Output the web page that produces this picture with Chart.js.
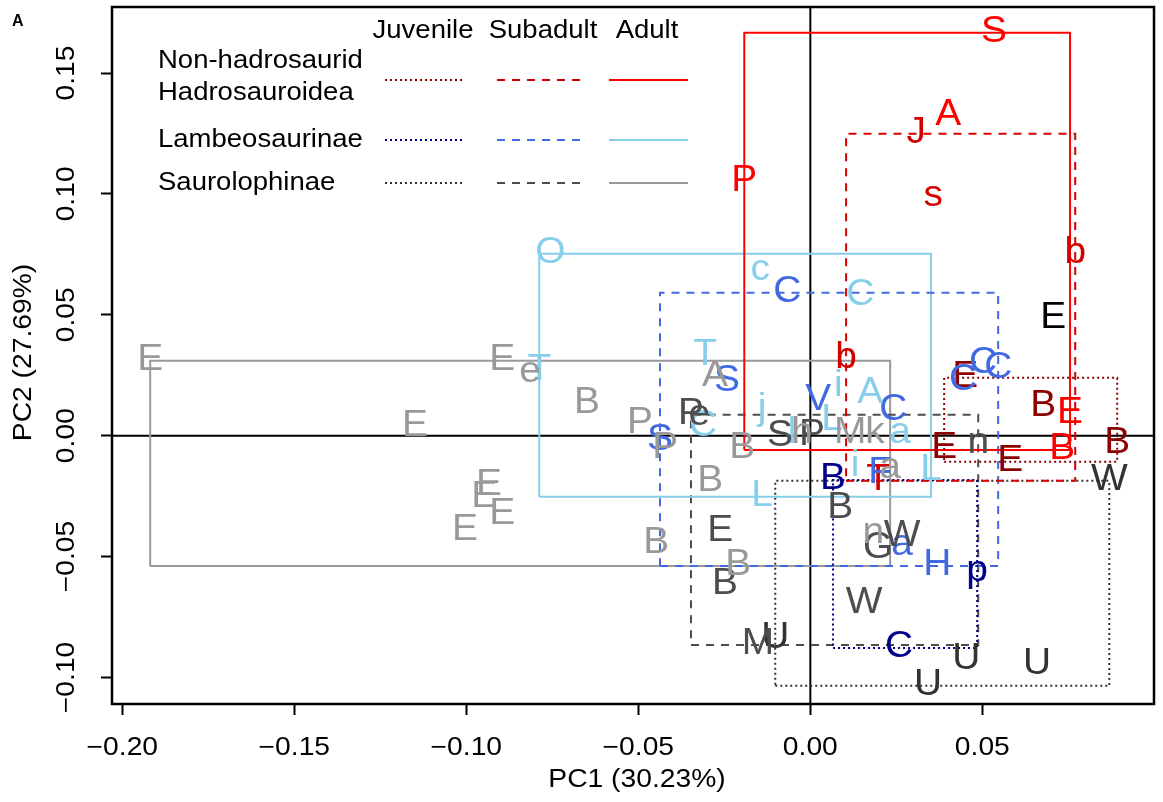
<!DOCTYPE html>
<html>
<head>
<meta charset="utf-8">
<script src="https://cdn.jsdelivr.net/npm/chart.js@4.4.0/dist/chart.umd.min.js"></script>
<style>
  html, body { margin: 0; padding: 0; background: #fff; }
  canvas { display: block; }
</style>
</head>
<body>
<canvas id="pca" width="1163" height="802"></canvas>
<script>
const FONT = '"Liberation Sans", Arial, Helvetica, sans-serif';

// axis ticks
const xTicks = [-0.20, -0.15, -0.10, -0.05, 0.00, 0.05];
const yTicks = [-0.10, -0.05, 0.00, 0.05, 0.10, 0.15];

// Non-hadrosaurid Hadrosauroidea
const nhAdultLab = ["S", "A", "P", "E", "B"];
const nhAdultX = [0.0534, 0.0401, -0.0192, 0.0755, 0.0732];
const nhAdultY = [0.1667, 0.1323, 0.1050, 0.0090, -0.0059];

const nhSubLab = ["J", "s", "b", "b", "T"];
const nhSubX = [0.0308, 0.0357, 0.0104, 0.0770, 0.0197];
const nhSubY = [0.1249, 0.0988, 0.0318, 0.0752, -0.0187];

const nhJuvLab = ["E", "B", "E", "E", "B"];
const nhJuvX = [0.0450, 0.0677, 0.0389, 0.0581, 0.0892];
const nhJuvY = [0.0239, 0.0119, -0.0055, -0.0108, -0.0034];

// Lambeosaurinae
const laAdultLab = ["O", "c", "C", "T", "T", "i", "A", "j", "L", "C", "l", "a", "i", "L", "L"];
const laAdultX = [-0.0756, -0.0146, 0.0145, -0.0306, -0.0788, 0.0081, 0.0174, -0.0140, 0.0063, -0.0312, -0.0053, 0.0261, 0.0130, 0.0351, -0.0140];
const laAdultY = [0.0752, 0.0682, 0.0578, 0.0330, 0.0268, 0.0202, 0.0173, 0.0107, 0.0061, 0.0036, 0.0007, 0.0007, -0.0129, -0.0146, -0.0253];

const laSubLab = ["C", "S", "S", "V", "C", "C", "C", "C", "F", "a", "H"];
const laSubX = [-0.0067, -0.0242, -0.0437, 0.0023, 0.0241, 0.0444, 0.0502, 0.0546, 0.0203, 0.0267, 0.0369];
const laSubY = [0.0591, 0.0223, -0.0022, 0.0144, 0.0103, 0.0227, 0.0297, 0.0276, -0.0158, -0.0456, -0.0539];

const laJuvLab = ["B", "p", "C"];
const laJuvX = [0.0066, 0.0485, 0.0258];
const laJuvY = [-0.0183, -0.0564, -0.0878];

// Saurolophinae
const saAdultLab = ["E", "E", "e", "B", "E", "P", "P", "A", "B", "B", "B", "B", "E", "E", "E", "E", "h", "M", "k", "a", "n"];
const saAdultX = [-0.1919, -0.0896, -0.0815, -0.0649, -0.1149, -0.0495, -0.0422, -0.0277, -0.0198, -0.0291, -0.0448, -0.0210, -0.0934, -0.0948, -0.0896, -0.1004, -0.0024, 0.0116, 0.0188, 0.0232, 0.0183];
const saAdultY = [0.0310, 0.0310, 0.0260, 0.0132, 0.0036, 0.0049, -0.0055, 0.0243, -0.0055, -0.0191, -0.0448, -0.0539, -0.0208, -0.0257, -0.0328, -0.0394, 0.0007, 0.0007, 0.0007, -0.0137, -0.0406];

const saSubLab = ["P", "e", "S", "P", "E", "B", "B", "G", "W", "W", "n", "M"];
const saSubX = [-0.0347, -0.0323, -0.0088, 0.0005, -0.0262, -0.0248, 0.0087, 0.0197, 0.0267, 0.0156, 0.0488, -0.0152];
const saSubY = [0.0086, 0.0082, -0.0005, -0.0001, -0.0398, -0.0617, -0.0303, -0.0468, -0.0419, -0.0696, -0.0034, -0.0866];

const saJuvLab = ["U", "U", "U", "U", "W"];
const saJuvX = [-0.0102, 0.0342, 0.0453, 0.0659, 0.0869];
const saJuvY = [-0.0841, -0.1035, -0.0928, -0.0948, -0.0187];

// unboxed specimen
const otherLab = ["E"];
const otherX = [0.0706];
const otherY = [0.0483];

const groups = [
  { lab: nhJuvLab, x: nhJuvX, y: nhJuvY, color: "#8B0000", dash: [2, 3], box: true },
  { lab: nhSubLab, x: nhSubX, y: nhSubY, color: "#D40000", dash: [8, 7], box: true },
  { lab: nhAdultLab, x: nhAdultX, y: nhAdultY, color: "#FF0000", dash: [], box: true },
  { lab: laJuvLab, x: laJuvX, y: laJuvY, color: "#00008B", dash: [2, 3], box: true },
  { lab: laSubLab, x: laSubX, y: laSubY, color: "#4169E1", dash: [8, 7], box: true },
  { lab: laAdultLab, x: laAdultX, y: laAdultY, color: "#87CEEB", dash: [], box: true },
  { lab: saJuvLab, x: saJuvX, y: saJuvY, color: "#333333", dash: [2, 3], box: true },
  { lab: saSubLab, x: saSubX, y: saSubY, color: "#4D4D4D", dash: [8, 7], box: true },
  { lab: saAdultLab, x: saAdultX, y: saAdultY, color: "#999999", dash: [], box: true },
  { lab: otherLab, x: otherX, y: otherY, color: "#000000", dash: [], box: false }
];

function rangeBox(xs, ys) {
  const x0 = Math.min(...xs), x1 = Math.max(...xs);
  const y0 = Math.min(...ys), y1 = Math.max(...ys);
  return [{x: x0, y: y0}, {x: x1, y: y0}, {x: x1, y: y1}, {x: x0, y: y1}, {x: x0, y: y0}];
}

const datasets = [];
groups.forEach(g => {
  if (g.box) {
    datasets.push({
      type: "line",
      data: rangeBox(g.x, g.y),
      borderColor: g.color,
      borderWidth: 2,
      borderDash: g.dash,
      borderCapStyle: "butt",
      pointRadius: 0,
      fill: false,
      tension: 0
    });
  }
  datasets.push({
    type: "scatter",
    data: g.x.map((v, i) => ({x: v, y: g.y[i]})),
    letters: g.lab,
    textColor: g.color,
    pointRadius: 0
  });
});

const fmt = v => (v < 0 ? "\u2212" : "") + Math.abs(v).toFixed(2);

// text in the source figure is a little wider than the font
function wideText(ctx, str, x, y, sx, rot) {
  ctx.save();
  ctx.translate(x, y);
  if (rot) ctx.rotate(rot);
  ctx.scale(sx, 1);
  ctx.fillText(str, 0, 0);
  ctx.restore();
}

const decor = {
  id: "decor",
  beforeDatasetsDraw(chart) {
    const {ctx, chartArea: a, scales} = chart;
    ctx.save();
    ctx.strokeStyle = "#000";
    ctx.lineWidth = 2;
    const x0 = scales.x.getPixelForValue(0);
    const y0 = scales.y.getPixelForValue(0);
    ctx.beginPath();
    ctx.moveTo(x0, a.top); ctx.lineTo(x0, a.bottom);
    ctx.moveTo(a.left, y0); ctx.lineTo(a.right, y0);
    ctx.stroke();
    ctx.restore();
  },
  afterDatasetsDraw(chart) {
    const ctx = chart.ctx;
    ctx.save();
    ctx.font = "36px " + FONT;
    ctx.textAlign = "center";
    ctx.textBaseline = "alphabetic";
    chart.data.datasets.forEach((ds, i) => {
      if (!ds.letters) return;
      const meta = chart.getDatasetMeta(i);
      ctx.fillStyle = ds.textColor;
      meta.data.forEach((pt, j) => wideText(ctx, ds.letters[j], pt.x, pt.y + 9, 1.08));
    });
    ctx.restore();
  },
  afterDraw(chart) {
    const {ctx, chartArea: a, scales} = chart;
    ctx.save();
    ctx.strokeStyle = "#000";
    ctx.lineWidth = 2.5;
    ctx.strokeRect(a.left, a.top, a.right - a.left, a.bottom - a.top);

    ctx.fillStyle = "#000";
    ctx.font = "25px " + FONT;
    ctx.textAlign = "center";
    ctx.textBaseline = "alphabetic";
    // x tick labels
    scales.x.ticks.forEach(t => {
      wideText(ctx, fmt(t.value), scales.x.getPixelForValue(t.value), 755, 1.13);
    });
    // y tick labels, rotated as in R
    scales.y.ticks.forEach(t => {
      wideText(ctx, fmt(t.value), 74, scales.y.getPixelForValue(t.value), 1.13, -Math.PI / 2);
    });
    // axis titles
    wideText(ctx, "PC1 (30.23%)", (a.left + a.right) / 2 + 4, 787, 1.13);
    wideText(ctx, "PC2 (27.69%)", 31, (a.top + a.bottom) / 2 - 3, 1.13, -Math.PI / 2);

    // panel tag
    ctx.font = "bold 16px " + FONT;
    ctx.textAlign = "left";
    ctx.fillText("A", 12, 26);

    // legend
    ctx.font = "25px " + FONT;
    ctx.textAlign = "center";
    wideText(ctx, "Juvenile", 423, 38, 1.1);
    wideText(ctx, "Subadult", 543, 38, 1.1);
    wideText(ctx, "Adult", 647, 38, 1.1);
    ctx.textAlign = "left";
    wideText(ctx, "Non-hadrosaurid", 158, 68, 1.1);
    wideText(ctx, "Hadrosauroidea", 158, 100, 1.1);
    wideText(ctx, "Lambeosaurinae", 158, 147, 1.1);
    wideText(ctx, "Saurolophinae", 158, 190, 1.1);
    const rowsY = [80, 140, 183];
    const segs = [[385, 462], [497, 580], [609, 688]];
    for (let r = 0; r < 3; r++) {
      for (let s = 0; s < 3; s++) {
        const g = groups[r * 3 + s];
        ctx.strokeStyle = g.color;
        ctx.lineWidth = 2;
        ctx.setLineDash(g.dash);
        ctx.beginPath();
        ctx.moveTo(segs[s][0], rowsY[r]);
        ctx.lineTo(segs[s][1], rowsY[r]);
        ctx.stroke();
      }
    }
    ctx.restore();
  }
};

new Chart(document.getElementById("pca"), {
  type: "scatter",
  data: { datasets: datasets },
  options: {
    responsive: false,
    animation: false,
    devicePixelRatio: 1,
    layout: { padding: { top: 7, right: 9, left: 0, bottom: 0 } },
    plugins: { legend: { display: false }, tooltip: { enabled: false } },
    scales: {
      x: {
        type: "linear",
        min: -0.2030,
        max: 0.0999,
        afterBuildTicks: s => { s.ticks = xTicks.map(v => ({value: v})); },
        afterFit: s => { s.height = 98; },
        ticks: { color: "rgba(0,0,0,0)", font: { size: 1 }, padding: 0, maxRotation: 0, autoSkip: false },
        grid: { drawOnChartArea: false, drawTicks: true, tickLength: 11, tickColor: "#000", tickWidth: 2 },
        border: { display: false }
      },
      y: {
        type: "linear",
        min: -0.1110,
        max: 0.1773,
        afterBuildTicks: s => { s.ticks = yTicks.map(v => ({value: v})); },
        afterFit: s => { s.width = 112; },
        ticks: { color: "rgba(0,0,0,0)", font: { size: 1 }, padding: 0, autoSkip: false },
        grid: { drawOnChartArea: false, drawTicks: true, tickLength: 11, tickColor: "#000", tickWidth: 2 },
        border: { display: false }
      }
    }
  },
  plugins: [decor]
});
</script>
</body>
</html>
